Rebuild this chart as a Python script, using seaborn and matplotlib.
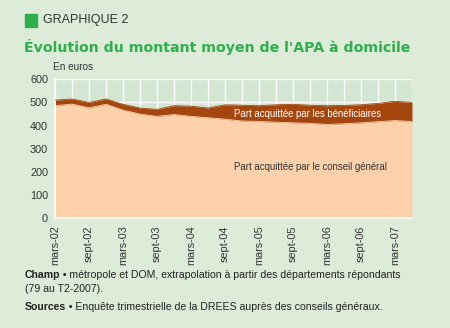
import matplotlib
matplotlib.use("Agg")
import matplotlib.pyplot as plt
import matplotlib.text as mtext
import seaborn as sns
import pandas as pd
from matplotlib.patches import Rectangle

quarters = ["mars-02", "juin-02", "sept-02", "déc-02",
            "mars-03", "juin-03", "sept-03", "déc-03",
            "mars-04", "juin-04", "sept-04", "déc-04",
            "mars-05", "juin-05", "sept-05", "déc-05",
            "mars-06", "juin-06", "sept-06", "déc-06",
            "mars-07", "juin-07"]
conseil_general = [486, 493, 477, 492, 467, 450, 440, 448, 440, 434, 428,
                   420, 418, 415, 412, 410, 405, 408, 412, 417, 422, 418]
beneficiaires = [24, 22, 23, 23, 25, 26, 30, 38, 44, 42, 62,
                 68, 68, 75, 80, 78, 81, 79, 78, 79, 83, 82]
y_ticks = [0, 100, 200, 300, 400, 500, 600]

df = pd.DataFrame({"q": quarters,
                   "cg": conseil_general,
                   "ben": beneficiaires})
df["pos"] = range(len(df))
df["total"] = df["cg"] + df["ben"]

BG = "#dcecd9"
AXBG = "#d2e6d1"
PEACH = "#fdd1ab"
BROWN = "#a5460f"
GREEN = "#2fae4e"
TXT = "#333333"

sns.set_style("white")
plt.rcParams["font.family"] = ["Liberation Sans", "DejaVu Sans"]

fig = plt.figure(figsize=(4.5, 3.28), dpi=100, facecolor=BG)
ax = fig.add_axes([55/450, 1-218.3/328, (412-55)/450, (218.3-79.3)/328])
ax.set_facecolor(AXBG)

ax.fill_between(df["pos"], 0, df["cg"], color=PEACH, linewidth=0, zorder=2)
ax.fill_between(df["pos"], df["cg"], df["total"], color=BROWN, linewidth=0, zorder=2)
sns.lineplot(data=df, x="pos", y="total", ax=ax, color=BROWN, linewidth=0.6, zorder=3)
sns.lineplot(data=df, x="pos", y="cg", ax=ax, color=PEACH, linewidth=0.6, zorder=3)

ax.set_xlim(0, len(df) - 1)
ax.set_ylim(0, 600)
ax.set_xticks(df["pos"])
ax.set_xticklabels([q if i % 2 == 0 else "" for i, q in enumerate(quarters)],
                   rotation=90, fontsize=7.8, color=TXT)
ax.set_yticks(y_ticks)
ax.set_yticklabels([str(v) for v in y_ticks], fontsize=7.8, color=TXT)
ax.set_xlabel("")
ax.set_ylabel("")
ax.grid(True, color="white", linewidth=1.0, zorder=1)
ax.set_axisbelow(True)
ax.tick_params(axis="both", length=3, width=1, color="white", pad=2)
for s in ["top", "right"]:
    ax.spines[s].set_visible(False)
for s in ["left", "bottom"]:
    ax.spines[s].set_color("white")
    ax.spines[s].set_linewidth(1.2)

ax.text(10.5, 452, "Part acquittée par les bénéficiaires", color="white",
        fontsize=6.9, va="center", ha="left", zorder=4)
ax.text(10.5, 220, "Part acquittée par le conseil général", color=TXT,
        fontsize=6.9, va="center", ha="left", zorder=4)

fig.text(53/450, 1-67/328, "En euros", fontsize=7.2, color=TXT, va="center")

fig.patches.append(Rectangle((25/450, 1-27/328), 12/450, 13/328,
                             transform=fig.transFigure, color=GREEN))
fig.text(43/450, 1-20.5/328, "GRAPHIQUE 2", fontsize=9, color=TXT, va="center")
fig.text(24/450, 1-47/328, "Évolution du montant moyen de l'APA à domicile",
         fontsize=10.2, fontweight="bold", color=GREEN, va="center",
         family=["DejaVu Sans"])

FS = 7.6
t1 = fig.text(25/450, 1-275/328, "Champ", fontsize=FS, fontweight="bold",
              color="#222222", va="center")
fig.add_artist(mtext.Annotation(
    " • métropole et DOM, extrapolation à partir des départements répondants",
    xy=(1, 0.5), xycoords=t1, va="center", ha="left", fontsize=FS, color="#222222"))
fig.text(25/450, 1-289/328, "(79 au T2-2007).", fontsize=FS, color="#222222",
         va="center")
t2 = fig.text(25/450, 1-307/328, "Sources", fontsize=FS, fontweight="bold",
              color="#222222", va="center")
fig.add_artist(mtext.Annotation(
    " • Enquête trimestrielle de la DREES auprès des conseils généraux.",
    xy=(1, 0.5), xycoords=t2, va="center", ha="left", fontsize=FS, color="#222222"))

fig.savefig("out.png", dpi=100, facecolor=BG)
